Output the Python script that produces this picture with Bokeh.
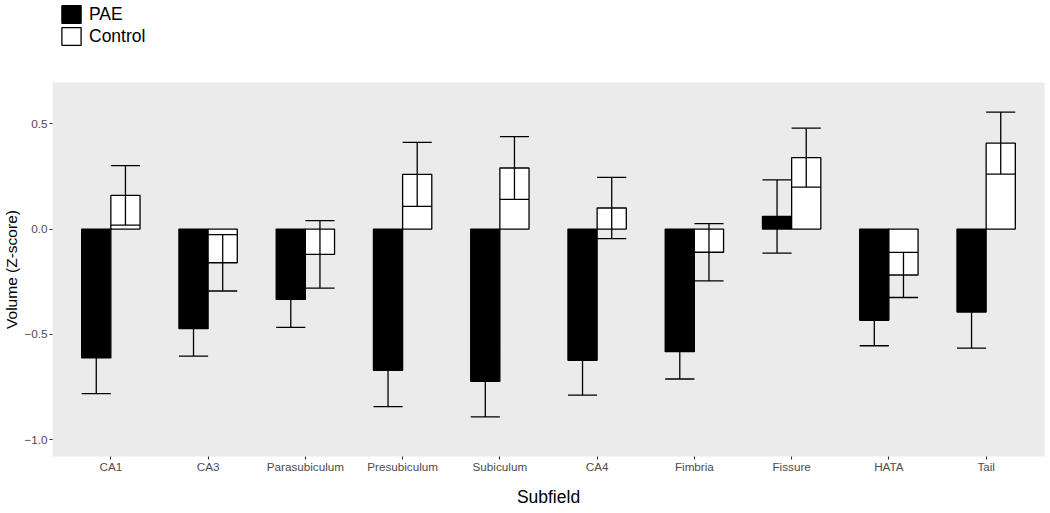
from bokeh.plotting import figure
from bokeh.layouts import column
from bokeh.models import (ColumnDataSource, Range1d, FixedTicker, Legend, LegendItem)
from bokeh.transform import dodge
from bokeh.embed import file_html
from bokeh.resources import INLINE

# ---- data ----
categories = ["CA1", "CA3", "Parasubiculum", "Presubiculum", "Subiculum",
              "CA4", "Fimbria", "Fissure", "HATA", "Tail"]
pae_mean = [-0.612, -0.473, -0.334, -0.671, -0.723, -0.623, -0.582, 0.060, -0.433, -0.394]
pae_se = [0.169, 0.130, 0.133, 0.172, 0.169, 0.166, 0.130, 0.174, 0.121, 0.171]
control_mean = [0.160, -0.160, -0.120, 0.260, 0.290, 0.100, -0.110, 0.339, -0.218, 0.408]
control_se = [0.141, 0.134, 0.160, 0.152, 0.149, 0.145, 0.136, 0.140, 0.107, 0.147]
groups = ["PAE", "Control"]
group_fill = ["black", "white"]
y_ticks = [-1.0, -0.5, 0.0, 0.5]
y_tick_labels = ["\u22121.0", "\u22120.5", "0.0", "0.5"]

FONT = "Liberation Sans"
xs = list(range(1, len(categories) + 1))

src = ColumnDataSource(dict(
    x=xs,
    pae=pae_mean,
    pae_lo=[m - s for m, s in zip(pae_mean, pae_se)],
    pae_hi=[m + s for m, s in zip(pae_mean, pae_se)],
    ctl=control_mean,
    ctl_lo=[m - s for m, s in zip(control_mean, control_se)],
    ctl_hi=[m + s for m, s in zip(control_mean, control_se)],
))

LEG_H = 82
p = figure(width=1050, height=513 - LEG_H, output_backend="svg", toolbar_location=None,
           x_range=Range1d(0.4, 10.6), y_range=Range1d(-1.08, 0.696),
           min_border_top=0, min_border_bottom=57, min_border_left=52, min_border_right=6,
           background_fill_color="#ebebeb", border_fill_color="white",
           outline_line_color=None)
p.xgrid.visible = False
p.ygrid.visible = False

BW = 0.3
LW = 1.3
r_pae = p.vbar(x=dodge("x", -BW / 2), top="pae", bottom=0, width=BW, source=src,
               fill_color=group_fill[0], line_color="black", line_width=LW)
r_ctl = p.vbar(x=dodge("x", BW / 2), top="ctl", bottom=0, width=BW, source=src,
               fill_color=group_fill[1], line_color="black", line_width=LW)

# error bars
for off, lo, hi in [(-BW / 2, "pae_lo", "pae_hi"), (BW / 2, "ctl_lo", "ctl_hi")]:
    p.segment(x0=dodge("x", off), x1=dodge("x", off), y0=lo, y1=hi, source=src,
              line_color="black", line_width=LW)
    for end in (lo, hi):
        p.segment(x0=dodge("x", off - BW / 2), x1=dodge("x", off + BW / 2), y0=end, y1=end,
                  source=src, line_color="black", line_width=LW)

# axes
p.xaxis.ticker = FixedTicker(ticks=xs)
p.xaxis.major_label_overrides = {x: c for x, c in zip(xs, categories)}
p.yaxis.ticker = FixedTicker(ticks=y_ticks)
p.yaxis.major_label_overrides = {t: l for t, l in zip(y_ticks, y_tick_labels)}
for ax in (p.xaxis[0], p.yaxis[0]):
    ax.axis_line_color = None
    ax.major_tick_in = 0
    ax.major_tick_out = 3
    ax.major_tick_line_color = "#333333"
    ax.major_tick_line_width = 1.1
    ax.minor_tick_line_color = None
    ax.major_label_text_font = FONT
    ax.major_label_text_font_size = "11.7px"
    ax.major_label_text_color = "#4d4d4d"
    ax.axis_label_text_font = FONT
    ax.axis_label_text_font_style = "normal"
    ax.axis_label_text_color = "black"

p.xaxis.major_label_standoff = 0
p.yaxis.major_label_standoff = 2
p.xaxis.axis_label = "Subfield"
p.xaxis.axis_label_text_font_size = "17.5px"
p.xaxis.axis_label_standoff = 11
p.yaxis.axis_label = "Volume (Z-score)"
p.yaxis.axis_label_text_font_size = "15.5px"
p.yaxis.axis_label_standoff = 1

# ---- legend strip above the panel (ggplot "top" legend) ----
lf = figure(width=1050, height=LEG_H, output_backend="svg", toolbar_location=None,
            x_range=Range1d(0, 1), y_range=Range1d(0, 1),
            x_axis_type=None, y_axis_type=None,
            min_border_top=0, min_border_bottom=0, min_border_left=0, min_border_right=0,
            outline_line_color=None, background_fill_color="white")
lf.xgrid.visible = False
lf.ygrid.visible = False
items = []
for g, fc, col in zip(groups, group_fill, ["pae", "ctl"]):
    r = lf.vbar(x="x", top=col, bottom=0, width=BW, source=src, visible=False,
                fill_color=fc, line_color="black", line_width=LW)
    items.append(LegendItem(label=g, renderers=[r]))
GW, GH = 24, 22  # legend glyphs are drawn at 80% of their box
legend = Legend(items=items, location=(7, LEG_H - 3 - 2 * GH), orientation="vertical",
                glyph_width=GW, glyph_height=GH, label_standoff=6, spacing=0,
                padding=0, margin=0, border_line_color=None, background_fill_alpha=0,
                label_text_font=FONT, label_text_font_size="17.5px",
                label_text_color="black", click_policy="none")
lf.add_layout(legend, "center")

layout = column(lf, p, spacing=0)
open("out.html", "w").write(file_html(layout, INLINE))
